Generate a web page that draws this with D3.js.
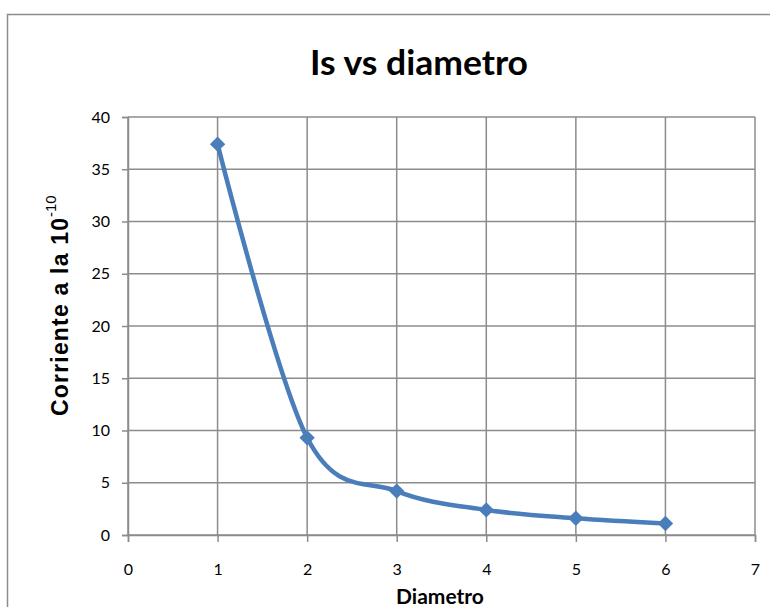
<!DOCTYPE html>
<html>
<head>
<meta charset="utf-8">
<script src="https://cdn.jsdelivr.net/npm/d3@7"></script>
<style>
  body { margin: 0; background: #fff; }
  svg { display: block; }
</style>
</head>
<body>
<div id="viz"></div>
<script>
// data
const diametro = [1, 2, 3, 4, 5, 6];
const corriente = [37.4, 9.3, 4.2, 2.4, 1.6, 1.1];
const xTicks = [0, 1, 2, 3, 4, 5, 6, 7];
const yTicks = [0, 5, 10, 15, 20, 25, 30, 35, 40];

const W = 770, H = 607;
const margin = { left: 128, top: 117, right: 15, bottom: 72 };
const innerW = W - margin.left - margin.right;
const innerH = H - margin.top - margin.bottom;

const svg = d3.select('#viz').append('svg').attr('width', W).attr('height', H);

// chart frame
svg.append('rect')
    .attr('x', 7.5).attr('y', 14.5)
    .attr('width', W + 20).attr('height', H + 20)
    .attr('fill', 'none').attr('stroke', '#8c8c8c').attr('stroke-width', 1.5);

svg.append('text')
    .attr('x', 419).attr('y', 75)
    .attr('text-anchor', 'middle')
    .attr('font-family', 'Lato, "Open Sans", sans-serif')
    .attr('font-weight', 'bold').attr('font-size', 35)
    .attr('textLength', 218).attr('lengthAdjust', 'spacingAndGlyphs')
    .text('Is vs diametro');

const g = svg.append('g').attr('transform', `translate(${margin.left},${margin.top})`);

const x = d3.scaleLinear().domain([0, 7]).range([0, innerW]);
const y = d3.scaleLinear().domain([0, 40]).range([innerH, 0]);

// grid
g.append('g').selectAll('line').data(yTicks).join('line')
    .attr('x1', 0).attr('x2', innerW)
    .attr('y1', d => y(d)).attr('y2', d => y(d))
    .attr('stroke', '#8c8c8c').attr('stroke-width', 1.5);
g.append('g').selectAll('line').data(xTicks).join('line')
    .attr('x1', d => x(d)).attr('x2', d => x(d))
    .attr('y1', 0).attr('y2', innerH)
    .attr('stroke', '#8c8c8c').attr('stroke-width', 1.5);

const tickFont = 'Lato, "Open Sans", sans-serif';

let ax = g.append('g').attr('transform', `translate(0,${innerH})`)
    .call(d3.axisBottom(x).tickValues(xTicks).tickSize(7).tickPadding(22).tickFormat(d3.format('d')));
let ay = g.append('g')
    .call(d3.axisLeft(y).tickValues(yTicks).tickSize(6).tickPadding(12).tickFormat(d3.format('d')));
[ax, ay].forEach(a => {
    a.select('.domain').attr('stroke', '#8c8c8c').attr('stroke-width', 1.5);
    a.selectAll('.tick line').attr('stroke', '#8c8c8c').attr('stroke-width', 1.5);
    a.selectAll('text').attr('font-family', tickFont).attr('font-size', 16).attr('fill', '#000');
});

// series
const pts = diametro.map((d, i) => [d, corriente[i]]);
const line = d3.line().x(d => x(d[0])).y(d => y(d[1])).curve(d3.curveCardinal.tension(0));
g.append('path').datum(pts)
    .attr('d', line)
    .attr('fill', 'none').attr('stroke', '#4a7ebb').attr('stroke-width', 4.5);

g.selectAll('.mark').data(pts).join('path')
    .attr('class', 'mark')
    .attr('transform', d => `translate(${x(d[0])},${y(d[1])})`)
    .attr('d', d3.symbol(d3.symbolDiamond2, 150))
    .attr('fill', '#4a7ebb');

// axis titles
const yl = svg.append('g').attr('transform', 'translate(68,416) rotate(-90)');
yl.append('text')
    .attr('font-family', '"Liberation Sans", Arial, sans-serif')
    .attr('font-weight', 'bold').attr('font-size', 23)
    .attr('textLength', 198).attr('lengthAdjust', 'spacing')
    .text('Corriente a la 10');
yl.append('text')
    .attr('x', 199).attr('y', -12)
    .attr('font-family', '"Liberation Sans", Arial, sans-serif')
    .attr('font-size', 15)
    .text('-10');

svg.append('text')
    .attr('x', 440).attr('y', 604)
    .attr('text-anchor', 'middle')
    .attr('font-family', tickFont)
    .attr('font-weight', 'bold').attr('font-size', 21)
    .text('Diametro');
</script>
</body>
</html>
